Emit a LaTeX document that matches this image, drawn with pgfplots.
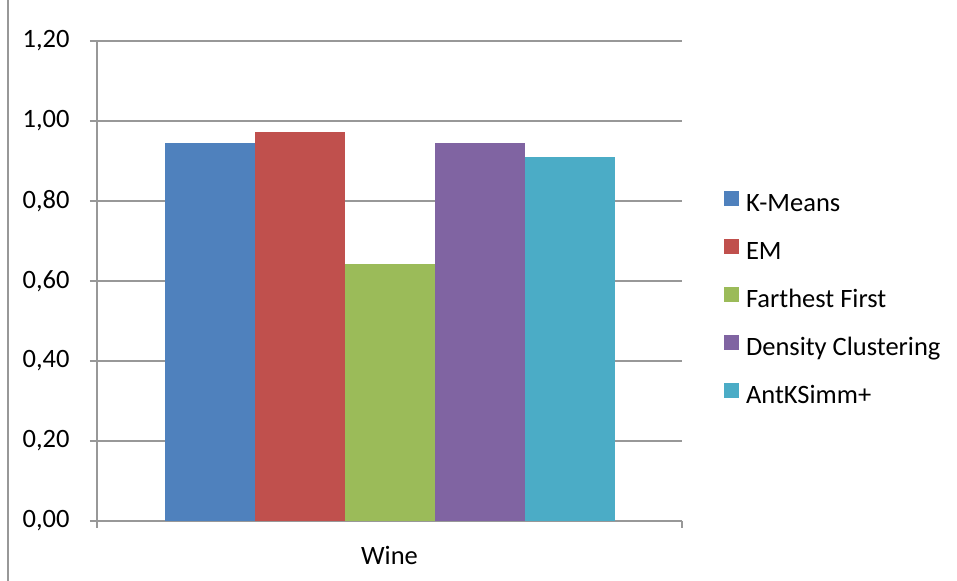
\documentclass[border=0pt]{standalone}
\usepackage{pgfplots}
\pgfplotsset{compat=1.18}
\usepackage{fontspec}
\setmainfont{Carlito}
\definecolor{c1}{HTML}{4F81BD}
\definecolor{c2}{HTML}{C0504D}
\definecolor{c3}{HTML}{9BBB59}
\definecolor{c4}{HTML}{8064A2}
\definecolor{c5}{HTML}{4BACC6}
\definecolor{gridc}{HTML}{989898}
\begin{document}
\begin{tikzpicture}[x=1bp,y=1bp]
\useasboundingbox (0,0) rectangle (957,581);
\fill[white] (0,0) rectangle (957,581);
\draw[gridc, line width=1.2bp] (8,0) -- (8,581);
\begin{axis}[
  at={(97bp,60bp)}, anchor=south west,
  scale only axis, width=585bp, height=480bp,
  xmin=-1, xmax=1, ymin=0, ymax=1.2,
  ybar=0pt, bar width=90bp,
  axis x line=bottom, axis y line=left,
  axis line style={-, draw=gridc, line width=1.2bp},
  ytick={0,0.2,0.4,0.6,0.8,1,1.2},
  yticklabels={{0,00},{0,20},{0,40},{0,60},{0,80},{1,00},{1,20}},
  ymajorgrids, major grid style={draw=gridc, line width=1.2bp},
  tick align=outside, major tick length=7bp,
  major tick style={draw=gridc, line width=1.2bp},
  xtick={-1,1}, xticklabels={,},
  extra x ticks={0}, extra x tick labels={Wine},
  extra x tick style={major tick length=0pt},
  ticklabel style={font=\fontsize{26.5bp}{30bp}\selectfont, text=black},
  yticklabel shift=17bp,
  xticklabel style={yshift=-22bp},
  legend image code/.code={\fill[#1, draw=none] (0bp,0bp) rectangle (15bp,15bp);},
  legend style={at={(1.0718,0.6875)}, anchor=north west, draw=none, fill=none,
    inner sep=0pt, outer sep=0pt,
    font=\fontsize{26.5bp}{30bp}\selectfont,
    nodes={inner sep=0pt, text height=18bp, text depth=6bp},
    row sep=21bp,
    /tikz/every odd column/.append style={column sep=7bp}},
  legend cell align=left,
]
\addplot[fill=c1, draw=none] coordinates {(0,0.945)};
\addplot[fill=c2, draw=none] coordinates {(0,0.9725)};
\addplot[fill=c3, draw=none] coordinates {(0,0.6425)};
\addplot[fill=c4, draw=none] coordinates {(0,0.945)};
\addplot[fill=c5, draw=none] coordinates {(0,0.91)};
\legend{K-Means, EM, Farthest First, Density Clustering, AntKSimm+}
\end{axis}
\end{tikzpicture}
\end{document}
